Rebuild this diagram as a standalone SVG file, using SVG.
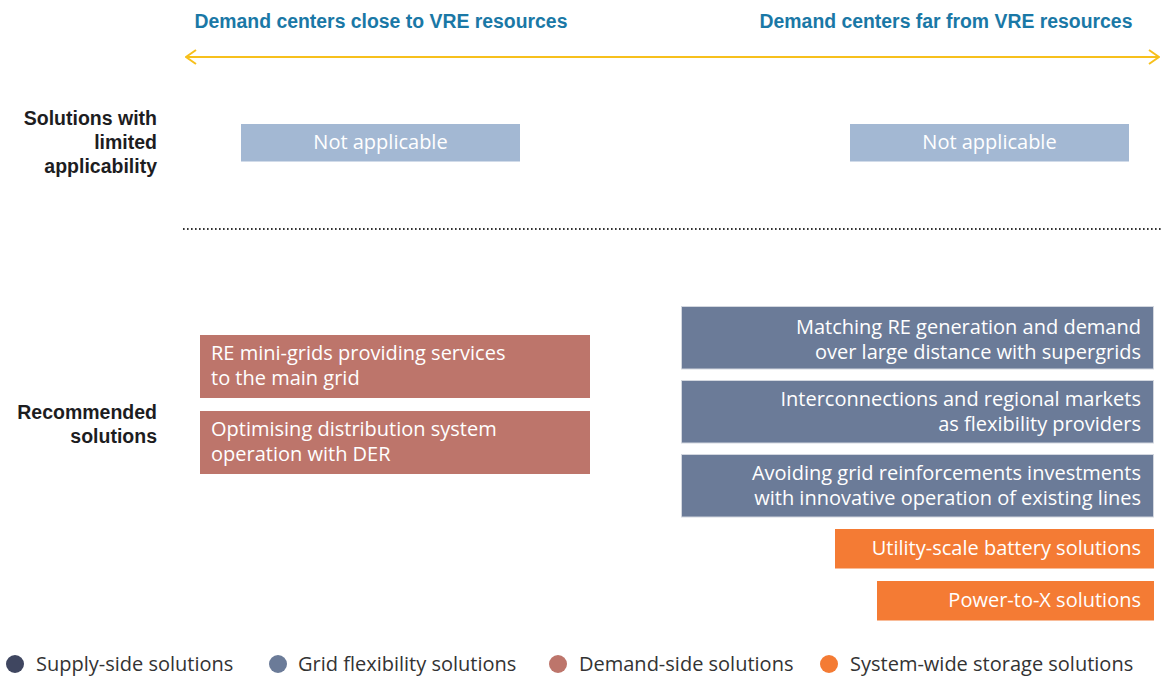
<svg xmlns="http://www.w3.org/2000/svg" width="1161" height="676" viewBox="0 0 1161 676">
<defs>
<style>
text{font-family:"Open Sans","Liberation Sans",Arial,sans-serif;font-size:20px}
.hdr{font-family:"Liberation Sans",Arial,sans-serif;font-size:19.4px;fill:#1a78a6;font-weight:bold;text-anchor:middle}
.lbl{font-family:"Liberation Sans",Arial,sans-serif;font-size:19.5px;fill:#1d1d1f;font-weight:bold;text-anchor:end}
.wt{fill:#ffffff}
.na{fill:#a3b8d3}
.dem{fill:#bd756b}
.grid{fill:#6b7b98;stroke:#d3d7df;stroke-width:1}
.sto{fill:#f47b34}
.leg{fill:#333333}
</style>
<marker id="ah" viewBox="0 0 12 16" refX="11" refY="8" markerWidth="12" markerHeight="16" markerUnits="userSpaceOnUse" orient="auto-start-reverse">
<path d="M1,1 L11,8 L1,15" fill="none" stroke="#f7c01c" stroke-width="2"/>
</marker>
</defs>
<g id="connectors">
<line x1="186" y1="57" x2="1159" y2="57" stroke="#f7c01c" stroke-width="2" marker-start="url(#ah)" marker-end="url(#ah)"/>
<line x1="183" y1="229" x2="1161" y2="229" stroke="#333" stroke-width="2" stroke-dasharray="1.6 2.4"/>
</g>
<g id="header-left"><text class="hdr" x="381" y="28">Demand centers close to VRE resources</text></g>
<g id="header-right"><text class="hdr" x="946" y="28">Demand centers far from VRE resources</text></g>
<g id="label-limited"><text class="lbl"><tspan x="157" y="125">Solutions with</tspan><tspan x="157" y="149">limited</tspan><tspan x="157" y="173">applicability</tspan></text></g>
<g id="label-recommended"><text class="lbl"><tspan x="157" y="419">Recommended</tspan><tspan x="157" y="443">solutions</tspan></text></g>
<g id="na-left"><rect class="na" x="241" y="124" width="279" height="37.5"/><text class="wt" x="380.5" y="149" text-anchor="middle">Not applicable</text></g>
<g id="na-right"><rect class="na" x="850" y="124" width="279" height="37.5"/><text class="wt" x="989.5" y="149" text-anchor="middle">Not applicable</text></g>
<g id="minigrids"><rect class="dem" x="200" y="335" width="390" height="63"/><text class="wt"><tspan x="211" y="360">RE mini-grids providing services</tspan><tspan x="211" y="385">to the main grid</tspan></text></g>
<g id="distribution"><rect class="dem" x="200" y="411" width="390" height="63"/><text class="wt"><tspan x="211" y="436">Optimising distribution system</tspan><tspan x="211" y="461">operation with DER</tspan></text></g>
<g id="supergrids"><rect class="grid" x="681.5" y="306.5" width="472" height="62.5"/><text class="wt" text-anchor="end"><tspan x="1141" y="334">Matching RE generation and demand</tspan><tspan x="1141" y="359">over large distance with supergrids</tspan></text></g>
<g id="interconnections"><rect class="grid" x="681.5" y="380.5" width="472" height="62.5"/><text class="wt" text-anchor="end"><tspan x="1141" y="406">Interconnections and regional markets</tspan><tspan x="1141" y="431">as flexibility providers</tspan></text></g>
<g id="reinforcements"><rect class="grid" x="681.5" y="454.5" width="472" height="62.5"/><text class="wt" text-anchor="end"><tspan x="1141" y="480">Avoiding grid reinforcements investments</tspan><tspan x="1141" y="505">with innovative operation of existing lines</tspan></text></g>
<g id="battery"><rect class="sto" x="835" y="529" width="319" height="39.5"/><text class="wt" x="1141" y="555" text-anchor="end">Utility-scale battery solutions</text></g>
<g id="ptx"><rect class="sto" x="877" y="581" width="277" height="39.5"/><text class="wt" x="1141" y="607" text-anchor="end">Power-to-X solutions</text></g>
<g id="legend">
<circle cx="15" cy="664" r="9" fill="#3f4660"/><text class="leg" x="36" y="671">Supply-side solutions</text>
<circle cx="278" cy="664" r="9" fill="#6b7b98"/><text class="leg" x="298" y="671">Grid flexibility solutions</text>
<circle cx="558" cy="664" r="9" fill="#bd756b"/><text class="leg" x="579" y="671">Demand-side solutions</text>
<circle cx="829" cy="664" r="9" fill="#f47b34"/><text class="leg" x="850" y="671">System-wide storage solutions</text>
</g>
</svg>
